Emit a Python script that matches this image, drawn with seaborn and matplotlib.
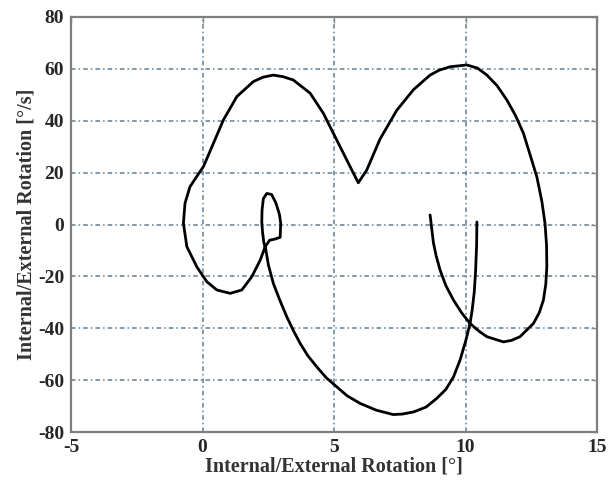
import matplotlib
matplotlib.use("Agg")
import matplotlib.pyplot as plt
import seaborn as sns
import pandas as pd

# rotation angle [deg] and angular velocity [deg/s], in path order
rotation = [10.43, 10.42, 10.38, 10.33, 10.25, 10.17, 10.00, 9.79, 9.54, 9.25, 8.90, 8.50,
            8.02, 7.60, 7.25, 6.60, 5.99, 5.50, 5.10, 4.70, 4.34, 4.00, 3.71, 3.45,
            3.20, 2.93, 2.69, 2.50, 2.40, 2.33, 2.28, 2.25, 2.26, 2.31, 2.44, 2.62,
            2.78, 2.92, 2.97, 2.95, 2.75, 2.55, 2.38, 2.19, 1.87, 1.49, 1.05, 0.54,
            0.16, -0.22, -0.60, -0.73, -0.67, -0.48, -0.22, 0.03, 0.41, 0.79, 1.30,
            1.93, 2.30, 2.69, 3.05, 3.45, 4.09, 4.59, 5.10, 5.61, 5.92, 6.24, 6.75,
            7.38, 8.02, 8.65, 9.00, 9.41, 10.05, 10.45, 10.81, 11.20, 11.57, 11.90,
            12.20, 12.45, 12.71, 12.90, 13.02, 13.08, 13.09, 13.05, 12.96, 12.80,
            12.58, 12.07, 11.75, 11.44, 10.81, 10.50, 10.17, 9.85, 9.54, 9.25, 9.03,
            8.88, 8.78, 8.65]
velocity = [1.0, -8.0, -18.0, -26.0, -33.0, -38.1, -45.0, -52.2, -58.7, -63.5, -67.0, -70.3,
            -72.2, -73.0, -73.2, -71.5, -68.9, -66.0, -62.5, -59.0, -54.8, -50.5, -45.8, -40.8,
            -35.5, -29.0, -22.7, -15.5, -9.5, -7.0, -3.0, 1.0, 5.6, 10.0, 12.0, 11.6,
            8.5, 4.0, 0.5, -4.9, -5.6, -6.0, -8.5, -13.7, -20.1, -25.2, -26.5, -25.2,
            -22.0, -16.3, -8.5, 0.5, 8.2, 14.6, 18.6, 22.3, 31.3, 40.3, 49.3,
            55.1, 56.8, 57.6, 57.0, 55.7, 50.6, 42.9, 32.6, 22.3, 16.1, 21.0, 33.0,
            44.0, 52.0, 57.6, 59.5, 60.8, 61.5, 60.3, 57.6, 53.5, 48.0, 42.0,
            35.2, 27.0, 18.4, 9.0, 0.5, -8.0, -16.3, -23.0, -29.1, -34.0,
            -38.1, -43.2, -44.6, -45.2, -43.2, -41.0, -38.1, -34.0, -29.1, -23.5, -17.5,
            -12.0, -7.2, 3.7]

x_ticks = [-5, 0, 5, 10, 15]
y_ticks = [-80, -60, -40, -20, 0, 20, 40, 60, 80]

df = pd.DataFrame({"rot": rotation, "vel": velocity})

sns.set_style("white")
plt.rcParams["font.family"] = ["Liberation Serif", "DejaVu Serif"]

fig = plt.figure(figsize=(6.08, 4.84), dpi=100)
ax = fig.add_axes([0.117, 0.107, 0.865, 0.858])

sns.lineplot(data=df, x="rot", y="vel", sort=False, estimator=None,
             color="black", linewidth=2, ax=ax)
for ln in ax.lines:
    ln.set_solid_joinstyle("round")
    ln.set_solid_capstyle("round")

ax.set_xlim(-5, 15)
ax.set_ylim(-80, 80)
ax.set_xticks(x_ticks)
ax.set_yticks(y_ticks)
ax.set_xticklabels([str(v) for v in x_ticks], fontsize=14, fontweight="bold")
ax.set_yticklabels([str(v) for v in y_ticks], fontsize=14, fontweight="bold")
ax.tick_params(direction="in", length=4, width=1, color="#8a8a8a", pad=5,
               top=True, right=True)

ax.grid(True, color="#5f7f96", linestyle=(0, (3, 2, 1, 2)), linewidth=1.1)
for s in ax.spines.values():
    s.set_color("#7f7f7f")
    s.set_linewidth(1.6)

ax.set_xlabel("Internal/External Rotation [°]", fontsize=14.5, fontweight="bold",
              color="#333333", labelpad=0)
ax.set_ylabel("Internal/External Rotation [°/s]", fontsize=14.5, fontweight="bold",
              color="#333333", labelpad=1)

fig.savefig("out.png", dpi=100, facecolor="white")
